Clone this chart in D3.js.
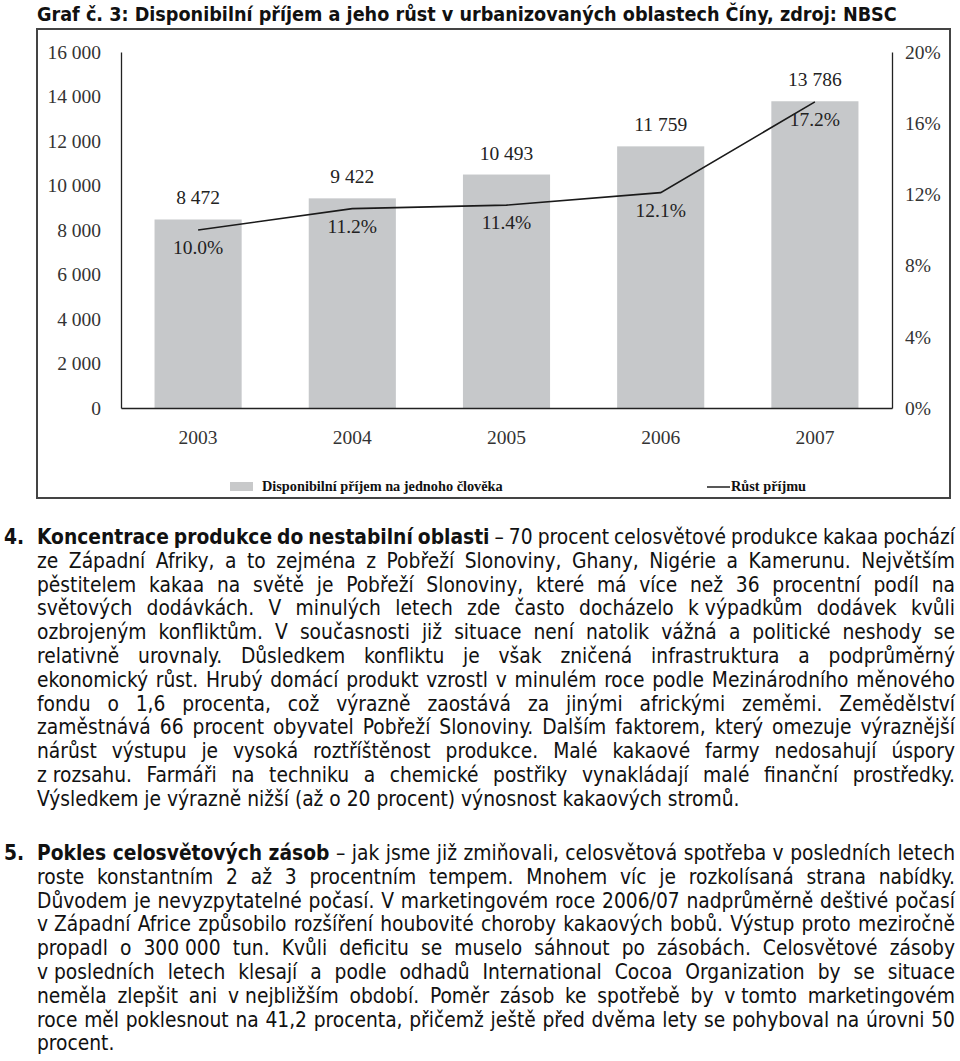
<!DOCTYPE html>
<html><head><meta charset="utf-8">
<script src="https://cdn.jsdelivr.net/npm/d3@7/dist/d3.min.js"></script>
<style>
html,body{margin:0;padding:0;background:#fff;}
svg{display:block;}
</style></head>
<body>
<svg id="page" width="960" height="1061"></svg>
<script>
// ---- chart data ----
const years = ["2003", "2004", "2005", "2006", "2007"];
const income = [8472, 9422, 10493, 11759, 13786];
const growth = [10.0, 11.2, 11.4, 12.1, 17.2];
const incomeTicks = [0, 2000, 4000, 6000, 8000, 10000, 12000, 14000, 16000];
const growthTicks = [0, 4, 8, 12, 16, 20];
const seriesNames = ["Disponibilní příjem na jednoho člověka", "Růst příjmu"];
const titleText = "Graf č. 3: Disponibilní příjem a jeho růst v urbanizovaných oblastech Číny, zdroj: NBSC";

// ---- document text ----
const para1Number = "4.";
const para1Lines = [
  "*Koncentrace produkce do nestabilní oblasti* – 70 procent celosvětové produkce kakaa pochází",
  "ze Západní Afriky, a to zejména z Pobřeží Slonoviny, Ghany, Nigérie a Kamerunu. Největším",
  "pěstitelem kakaa na světě je Pobřeží Slonoviny, které má více než 36 procentní podíl na",
  "světových dodávkách. V minulých letech zde často docházelo k\u00a0výpadkům dodávek kvůli",
  "ozbrojeným konfliktům. V současnosti již situace není natolik vážná a politické neshody se",
  "relativně urovnaly. Důsledkem konfliktu je však zničená infrastruktura a podprůměrný",
  "ekonomický růst. Hrubý domácí produkt vzrostl v minulém roce podle Mezinárodního měnového",
  "fondu o 1,6 procenta, což výrazně zaostává za jinými africkými zeměmi. Zemědělství",
  "zaměstnává 66 procent obyvatel Pobřeží Slonoviny. Dalším faktorem, který omezuje výraznější",
  "nárůst výstupu je vysoká roztříštěnost produkce. Malé kakaové farmy nedosahují úspory",
  "z\u00a0rozsahu. Farmáři na techniku a chemické postřiky vynakládají malé finanční prostředky.",
  "Výsledkem je výrazně nižší (až o 20 procent) výnosnost kakaových stromů."
];
const para2Number = "5.";
const para2Lines = [
  "*Pokles celosvětových zásob* – jak jsme již zmiňovali, celosvětová spotřeba v posledních letech",
  "roste konstantním 2 až 3 procentním tempem. Mnohem víc je rozkolísaná strana nabídky.",
  "Důvodem je nevyzpytatelné počasí. V marketingovém roce 2006/07 nadprůměrně deštivé počasí",
  "v\u00a0Západní Africe způsobilo rozšíření houbovité choroby kakaových bobů. Výstup proto meziročně",
  "propadl o 300\u00a0000 tun. Kvůli deficitu se muselo sáhnout po zásobách. Celosvětové zásoby",
  "v\u00a0posledních letech klesají a podle odhadů International Cocoa Organization by se situace",
  "neměla zlepšit ani v\u00a0nejbližším období. Poměr zásob ke spotřebě by v\u00a0tomto marketingovém",
  "roce měl poklesnout na 41,2 procenta, přičemž ještě před dvěma lety se pohyboval na úrovni 50",
  "procent."
];

const svg = d3.select("#page");
const SANS = "'DejaVu Sans Condensed','DejaVu Sans',sans-serif";
const SERIF = "'Liberation Serif','Times New Roman',serif";

function measure(text, family, size, weight) {
  const t = svg.append("text").attr("font-family", family).attr("font-size", size)
    .attr("font-weight", weight).attr("x", -2000).attr("y", -2000).text(text);
  const w = t.node().getComputedTextLength();
  t.remove();
  return w;
}

// ---- title ----
const titleSize = 100 * 860 / measure(titleText, SANS, 100, "bold");
svg.append("text").attr("x", 37).attr("y", 21)
  .attr("font-family", SANS).attr("font-size", titleSize).attr("font-weight", "bold")
  .attr("fill", "#111").text(titleText);

// ---- chart frame ----
svg.append("rect").attr("x", 37).attr("y", 29).attr("width", 913).attr("height", 469)
  .attr("fill", "#fff").attr("stroke", "#444").attr("stroke-width", 2);

const pLeft = 121, pRight = 892, pTop = 52, pBottom = 408;
const x = d3.scaleBand().domain(years).range([pLeft, pRight]).paddingInner(0.435).paddingOuter(0.2175);
const y = d3.scaleLinear().domain([0, 16000]).range([pBottom, pTop]);
const y2 = d3.scaleLinear().domain([0, 20]).range([pBottom, pTop]);
const loc = d3.formatLocale({decimal: ",", thousands: " ", grouping: [3], currency: ["", ""]});
const fmtN = loc.format(",d");

const g = svg.append("g");

// bars
g.selectAll("rect.bar").data(years).join("rect").attr("class", "bar")
  .attr("x", d => x(d)).attr("width", x.bandwidth())
  .attr("y", (d, i) => y(income[i])).attr("height", (d, i) => pBottom - y(income[i]))
  .attr("fill", "#c6c8ca");

// axes
function styleAxis(sel) {
  sel.selectAll("text").attr("font-family", SERIF).attr("font-size", 19.5).attr("fill", "#2a2a2a");
  sel.select(".domain").attr("stroke", "#222").attr("stroke-width", 1.3);
}
g.append("g").attr("transform", `translate(${pLeft},0)`)
  .call(d3.axisLeft(y).tickValues(incomeTicks).tickSize(0).tickPadding(20).tickFormat(fmtN))
  .call(styleAxis);
g.append("g").attr("transform", `translate(${pRight},0)`)
  .call(d3.axisRight(y2).tickValues(growthTicks).tickSize(0).tickPadding(13).tickFormat(d => d + "%"))
  .call(styleAxis);
g.append("g").attr("transform", `translate(0,${pBottom})`)
  .call(d3.axisBottom(x).tickSize(0).tickPadding(22).tickSizeOuter(0))
  .call(styleAxis);
g.selectAll(".tick text").attr("fill", "#333");

// line
const line = d3.line().x((d, i) => x(years[i]) + x.bandwidth() / 2).y(d => y2(d));
g.append("path").datum(growth).attr("d", line)
  .attr("fill", "none").attr("stroke", "#1a1a1a").attr("stroke-width", 1.6);

// value labels
g.selectAll("text.val").data(years).join("text").attr("class", "val")
  .attr("x", d => x(d) + x.bandwidth() / 2).attr("y", (d, i) => y(income[i]) - 15)
  .attr("text-anchor", "middle").attr("font-family", SERIF).attr("font-size", 19.5)
  .attr("fill", "#222").text((d, i) => fmtN(income[i]));
g.selectAll("text.pct").data(years).join("text").attr("class", "pct")
  .attr("x", d => x(d) + x.bandwidth() / 2).attr("y", (d, i) => y2(growth[i]) + 24)
  .attr("text-anchor", "middle").attr("font-family", SERIF).attr("font-size", 19.5)
  .attr("fill", "#222").text((d, i) => d3.format(".1f")(growth[i]) + "%");

// legend
svg.append("rect").attr("x", 230).attr("y", 482).attr("width", 23).attr("height", 9).attr("fill", "#c8c9ca");
svg.append("text").attr("x", 262).attr("y", 491).attr("font-family", SERIF).attr("font-size", 14.3)
  .attr("font-weight", "bold").attr("fill", "#111").text(seriesNames[0]);
svg.append("line").attr("x1", 707).attr("x2", 730).attr("y1", 487).attr("y2", 487)
  .attr("stroke", "#111").attr("stroke-width", 1.4);
svg.append("text").attr("x", 731).attr("y", 491).attr("font-family", SERIF).attr("font-size", 14.3)
  .attr("font-weight", "bold").attr("fill", "#111").text(seriesNames[1]);

// ---- paragraphs ----
const bodySize = 100 * 703 / measure(para1Lines[para1Lines.length - 1], SANS, 100, "normal");
const X0 = 37, X1 = 955, LH = 23.8;

function tokens(ln) {
  const parts = ln.split("*");
  const out = [];
  parts.forEach((p, k) => {
    p.split(" ").filter(w => w.length).forEach(w => out.push({w, bold: k % 2 === 1}));
  });
  return out;
}
function drawPara(num, lines, y0) {
  svg.append("text").attr("x", 4).attr("y", y0).attr("font-family", SANS).attr("font-size", bodySize)
    .attr("font-weight", "bold").attr("fill", "#111").text(num);
  const spaceW = measure("a a", SANS, bodySize, "normal") - measure("aa", SANS, bodySize, "normal");
  lines.forEach((ln, li) => {
    const tk = tokens(ln);
    tk.forEach(t => t.width = measure(t.w, SANS, bodySize, t.bold ? "bold" : "normal"));
    const total = d3.sum(tk, t => t.width);
    const last = li === lines.length - 1;
    const gap = last ? spaceW : (X1 - X0 - total) / (tk.length - 1);
    let cx = X0;
    tk.forEach(t => {
      svg.append("text").attr("x", cx).attr("y", y0 + li * LH).attr("font-family", SANS)
        .attr("font-size", bodySize).attr("font-weight", t.bold ? "bold" : "normal")
        .attr("fill", "#111").text(t.w);
      cx += t.width + gap;
    });
  });
}
drawPara(para1Number, para1Lines, 544);
drawPara(para2Number, para2Lines, 860);
</script>
</body></html>
